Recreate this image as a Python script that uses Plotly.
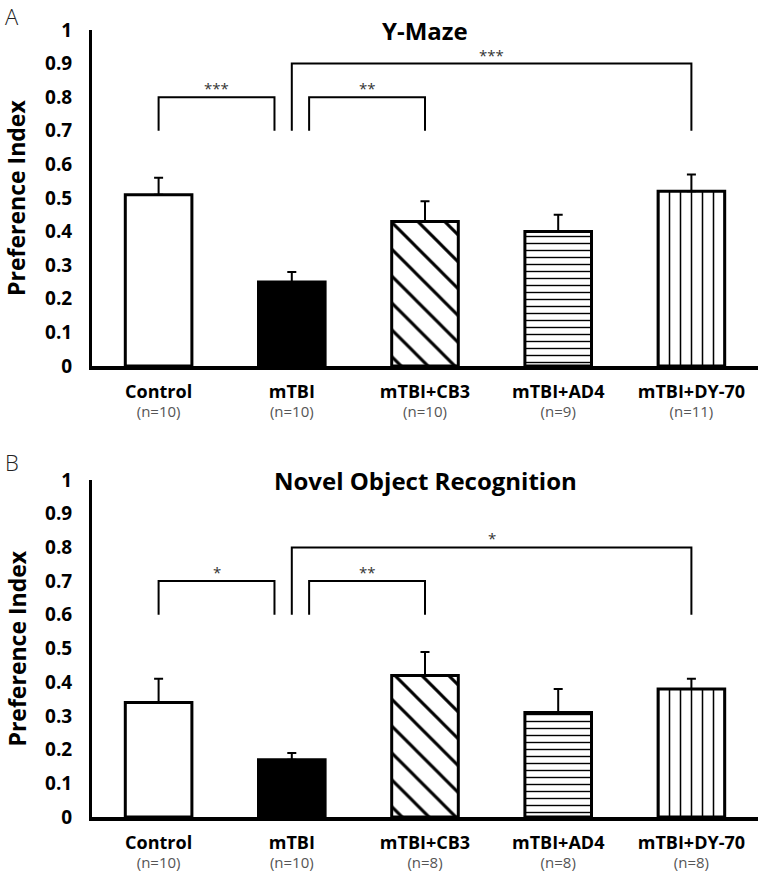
import plotly.graph_objects as go

# ---------------- data ----------------
groups = ["Control", "mTBI", "mTBI+CB3", "mTBI+AD4", "mTBI+DY-70"]
n_ymaze = ["n=10", "n=10", "n=10", "n=9", "n=11"]
n_nor = ["n=10", "n=10", "n=8", "n=8", "n=8"]

ymaze_mean = [0.51, 0.25, 0.43, 0.40, 0.52]
ymaze_sem = [0.05, 0.03, 0.06, 0.05, 0.05]

nor_mean = [0.34, 0.17, 0.42, 0.31, 0.38]
nor_sem = [0.07, 0.02, 0.07, 0.07, 0.03]

y_ticks = [0, 0.1, 0.2, 0.3, 0.4, 0.5, 0.6, 0.7, 0.8, 0.9, 1]
y_ticktext = ["0", "0.1", "0.2", "0.3", "0.4", "0.5", "0.6", "0.7", "0.8", "0.9", "1"]

# significance comparisons: (group a, group b, bracket height, label)
sig_ymaze = [("Control", "mTBI", 0.8, "***"),
             ("mTBI", "mTBI+CB3", 0.8, "**"),
             ("mTBI", "mTBI+DY-70", 0.9, "***")]
sig_ymaze_leg = 0.7
sig_nor = [("Control", "mTBI", 0.7, "*"),
           ("mTBI", "mTBI+CB3", 0.7, "**"),
           ("mTBI", "mTBI+DY-70", 0.8, "*")]
sig_nor_leg = 0.6

# ---------------- styling ----------------
FONT = "Open Sans"
# plain bars use marker colour as fill; patterned bars use it as line colour
# (fillmode 'replace' -> transparent background over the white plot area)
bar_colors = ["white", "black", "black", "black", "black"]
pat_shape = ["", "", "\\", "-", "|"]
pat_size = [8, 8, 19, 7, 11]
pat_solid = [0.1, 0.1, 0.16, 0.2, 0.14]

fig = go.Figure()

x_idx = list(range(len(groups)))


def add_panel(means, sems, xa, ya):
    fig.add_trace(go.Bar(
        x=x_idx, y=means, width=0.5,
        xaxis=xa, yaxis=ya,
        marker=dict(color=bar_colors,
                    line=dict(color="black", width=3),
                    pattern=dict(shape=pat_shape, size=pat_size, solidity=pat_solid,
                                 fillmode="replace")),
        error_y=dict(type="data", symmetric=False, array=sems,
                     arrayminus=[0] * len(sems), color="black", thickness=2, width=4.5),
        showlegend=False, hoverinfo="skip"))


def add_brackets(sigs, leg, xa, ya):
    pos = {g: i for i, g in enumerate(groups)}
    shared = "mTBI"
    for a, b, h, lab in sigs:
        xa_ = pos[a]
        xb_ = pos[b]
        # offset short brackets away from the shared mTBI bar
        if b == shared:
            xb_ -= 0.13
        if a == shared and b == "mTBI+CB3":
            xa_ += 0.13
        fig.add_trace(go.Scatter(
            x=[xa_, xa_, xb_, xb_], y=[leg, h, h, leg], mode="lines",
            line=dict(color="black", width=2), xaxis=xa, yaxis=ya,
            showlegend=False, hoverinfo="skip"))
        fig.add_annotation(x=(xa_ + xb_) / 2, y=h, xref=xa, yref=ya, text=lab,
                           showarrow=False, yanchor="bottom", yshift=-3,
                           font=dict(family=FONT, size=15, color="#333"))


add_panel(ymaze_mean, ymaze_sem, "x", "y")
add_panel(nor_mean, nor_sem, "x2", "y2")
add_brackets(sig_ymaze, sig_ymaze_leg, "x", "y")
add_brackets(sig_nor, sig_nor_leg, "x2", "y2")


def ticktext(ns):
    return [f"<b><span style='font-size:18px'>{g}</span></b><br>"
            f"<span style='font-size:15px;color:#555'>({n})</span>"
            for g, n in zip(groups, ns)]


xcommon = dict(range=[-0.5, 4.5], tickvals=x_idx, showline=True, linecolor="black",
               linewidth=3.5, showgrid=False, zeroline=False, ticks="",
               tickfont=dict(family=FONT, size=15, color="black"),
               ticklabelstandoff=10, fixedrange=True, automargin=False)
ycommon = dict(range=[0, 1], tickvals=y_ticks, ticktext=y_ticktext, showline=True,
               linecolor="black", linewidth=3, showgrid=False, zeroline=False, ticks="",
               tickfont=dict(family=FONT, size=19, color="black", weight="bold"),
               ticklabelstandoff=13, fixedrange=True, automargin=False)

fig.update_layout(
    width=758, height=873,
    margin=dict(l=92, r=0, t=30, b=56),
    paper_bgcolor="white", plot_bgcolor="white",
    font=dict(family=FONT),
    xaxis=dict(**xcommon, anchor="y", ticktext=ticktext(n_ymaze)),
    yaxis=dict(**ycommon, domain=[0.5731, 1], anchor="x"),
    xaxis2=dict(**xcommon, anchor="y2", ticktext=ticktext(n_nor)),
    yaxis2=dict(**ycommon, domain=[0, 0.4282], anchor="x2"),
)

# panel titles and y-axis titles
for ya, title in [("y", "Y-Maze"), ("y2", "Novel Object Recognition")]:
    fig.add_annotation(x=0.5, xref="paper", y=1, yref=f"{ya} domain", text=title,
                       showarrow=False, yanchor="middle",
                       font=dict(family=FONT, size=24, color="black", weight="bold"))
    fig.add_annotation(x=-0.1141, xref="paper", y=0.5, yref=f"{ya} domain",
                       text="Preference Index", textangle=-90, showarrow=False,
                       xanchor="center", yanchor="middle",
                       font=dict(family=FONT, size=23, color="black", weight="bold"))

for ya, letter, shift in [("y", "A", 14), ("y2", "B", 18)]:
    fig.add_annotation(x=-0.1336, xref="paper", y=1, yref=f"{ya} domain", text=letter,
                       showarrow=False, xanchor="left", yanchor="middle", yshift=shift,
                       font=dict(family=FONT, size=22, color="#222", weight=300))

# remove the default 8px page margin so the figure fills the window exactly
fig.write_html("out.html", config={"displayModeBar": False},
               post_script="document.body.style.margin='0';")
